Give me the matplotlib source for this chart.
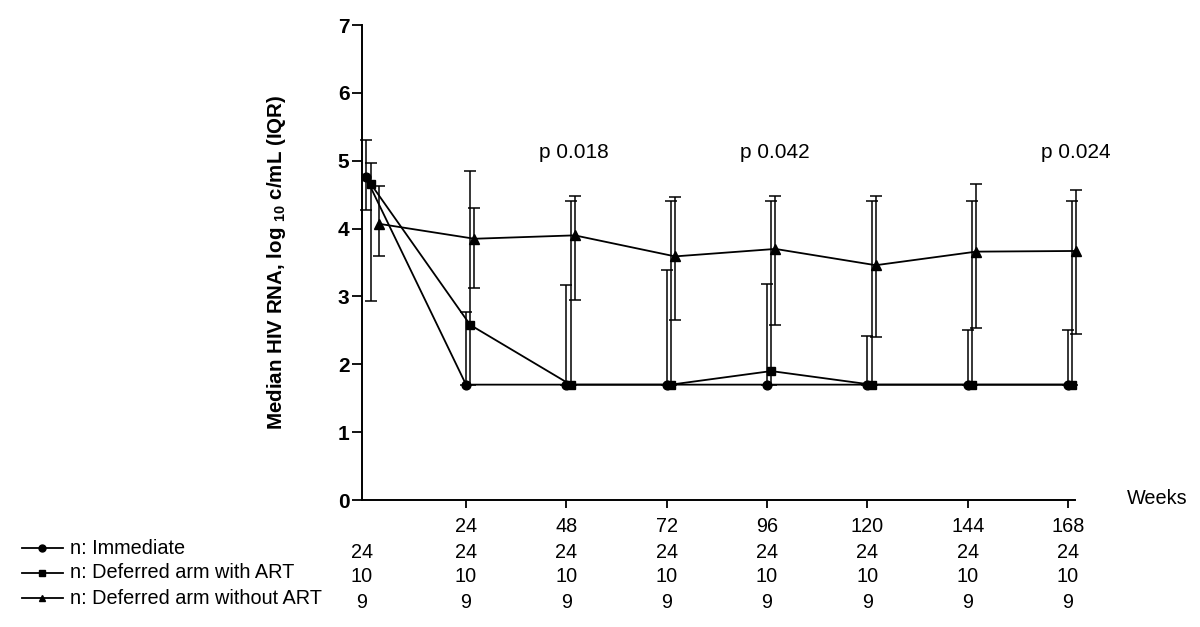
import matplotlib
matplotlib.use("Agg")
import matplotlib.pyplot as plt
from matplotlib.lines import Line2D

plt.rcParams['font.family'] = ['Liberation Sans', 'DejaVu Sans']
plt.rcParams['mathtext.fontset'] = 'custom'
plt.rcParams['mathtext.rm'] = 'Liberation Sans'
plt.rcParams['mathtext.bf'] = 'Liberation Sans:bold'

# ---- data ----
weeks = [0, 24, 48, 72, 96, 120, 144, 168]
tick_weeks = [24, 48, 72, 96, 120, 144, 168]

imm_med = [4.76, 1.70, 1.70, 1.70, 1.70, 1.70, 1.70, 1.70]
imm_q1 = [4.28, 1.70, 1.70, 1.70, 1.70, 1.70, 1.70, 1.70]
imm_q3 = [5.31, 2.77, 3.17, 3.39, 3.18, 2.42, 2.51, 2.50]

art_med = [4.66, 2.58, 1.70, 1.70, 1.90, 1.70, 1.70, 1.70]
art_q1 = [2.94, 1.70, 1.70, 1.70, 1.70, 1.70, 1.70, 1.70]
art_q3 = [4.97, 4.85, 4.41, 4.41, 4.41, 4.41, 4.41, 4.41]

noart_med = [4.07, 3.85, 3.90, 3.59, 3.70, 3.46, 3.66, 3.67]
noart_q1 = [3.60, 3.12, 2.95, 2.65, 2.58, 2.40, 2.54, 2.45]
noart_q3 = [4.63, 4.30, 4.48, 4.46, 4.48, 4.48, 4.66, 4.57]

series_labels = ["n: Immediate", "n: Deferred arm with ART", "n: Deferred arm without ART"]
n_imm = [24, 24, 24, 24, 24, 24, 24, 24]
n_art = [10, 10, 10, 10, 10, 10, 10, 10]
n_noart = [9, 9, 9, 9, 9, 9, 9, 9]

p_weeks = [48, 96, 168]
p_labels = ["p 0.018", "p 0.042", "p 0.024"]

# ---- figure ----
W, H = 1200, 627
fig = plt.figure(figsize=(W / 100, H / 100), dpi=100)
ax_l, ax_r, ax_b, ax_t = 362, 1075, 500, 25
ax = fig.add_axes([ax_l / W, 1 - ax_b / H, (ax_r - ax_l) / W, (ax_b - ax_t) / H])

px_per_week = (1068 - 466) / 144.0
w_at_left = (ax_l - 365.7) / px_per_week
w_at_right = w_at_left + (ax_r - ax_l) / px_per_week
ax.set_xlim(w_at_left, w_at_right)
ax.set_ylim(0, 7)

def nudge(xs, d, d0):
    return [x + (d0 if i == 0 else d) for i, x in enumerate(xs)]

specs = [
    (imm_med, imm_q1, imm_q3, 'o', 6.3, 0.0, 0.0),
    (art_med, art_q1, art_q3, 's', 5.8, 1.0, 1.2),
    (noart_med, noart_q1, noart_q3, '^', 6.8, 2.0, 3.2),
]
for med, q1, q3, mk, ms, d, d0 in specs:
    xs = nudge(weeks, d, d0)
    lo = [m - a for m, a in zip(med, q1)]
    hi = [b - m for m, b in zip(med, q3)]
    eb = ax.errorbar(xs, med, yerr=[lo, hi], fmt='none', ecolor='black',
                     elinewidth=1.1, capsize=4.5, capthick=1.1, zorder=2)
    for art in list(eb.lines[1]) + list(eb.lines[2]):
        art.set_clip_on(False)
    ax.plot(xs, med, color='black', lw=1.3, marker=mk, ms=ms,
            mfc='black', mec='black', zorder=3, clip_on=False)

for sp in ['top', 'right']:
    ax.spines[sp].set_visible(False)
for sp in ['left', 'bottom']:
    ax.spines[sp].set_linewidth(1.4)

ax.set_yticks(range(0, 8))
ax.set_yticklabels([str(v) for v in range(0, 8)], fontsize=15, fontweight='bold')
ax.tick_params(axis='y', direction='out', length=7, width=1.3, pad=2)
ax.set_xticks(tick_weeks)
ax.set_xticklabels([str(v) for v in tick_weeks], fontsize=14.3)
ax.tick_params(axis='x', direction='out', length=6, width=1.3, pad=6)

ax.set_ylabel(r"Median HIV RNA, log $_{\mathbf{10}}$ c/mL (IQR)", fontsize=14.8,
              fontweight='bold', labelpad=36)

fig.text(1157 / W, 1 - 498 / H, "Weeks", fontsize=14.3, ha='center', va='center')

for wk, lab in zip(p_weeks, p_labels):
    ax.text(wk + 1.8, 5.12, lab, fontsize=15, ha='center', va='center')

# ---- bottom table ----
rows_y = [548, 573, 598]
markers = ['o', 's', '^']
counts = [n_imm, n_art, n_noart]
for ry, lab, mk, cnt in zip(rows_y, series_labels, markers, counts):
    yf = 1 - ry / H
    fig.add_artist(Line2D([22 / W, 63 / W], [yf, yf], color='black', lw=1.3,
                          transform=fig.transFigure))
    fig.add_artist(Line2D([42 / W], [yf], color='black', marker=mk, ms=5,
                          transform=fig.transFigure))
    fig.text(70 / W, yf, lab, fontsize=14.3, ha='left', va='center')
    for i, (wk, c) in enumerate(zip(weeks, cnt)):
        x_px = 362 if i == 0 else 365.7 + wk * px_per_week
        fig.text(x_px / W, 1 - (ry + 4) / H, str(c), fontsize=14.3, ha='center', va='center')

fig.savefig("out.png", dpi=100)
